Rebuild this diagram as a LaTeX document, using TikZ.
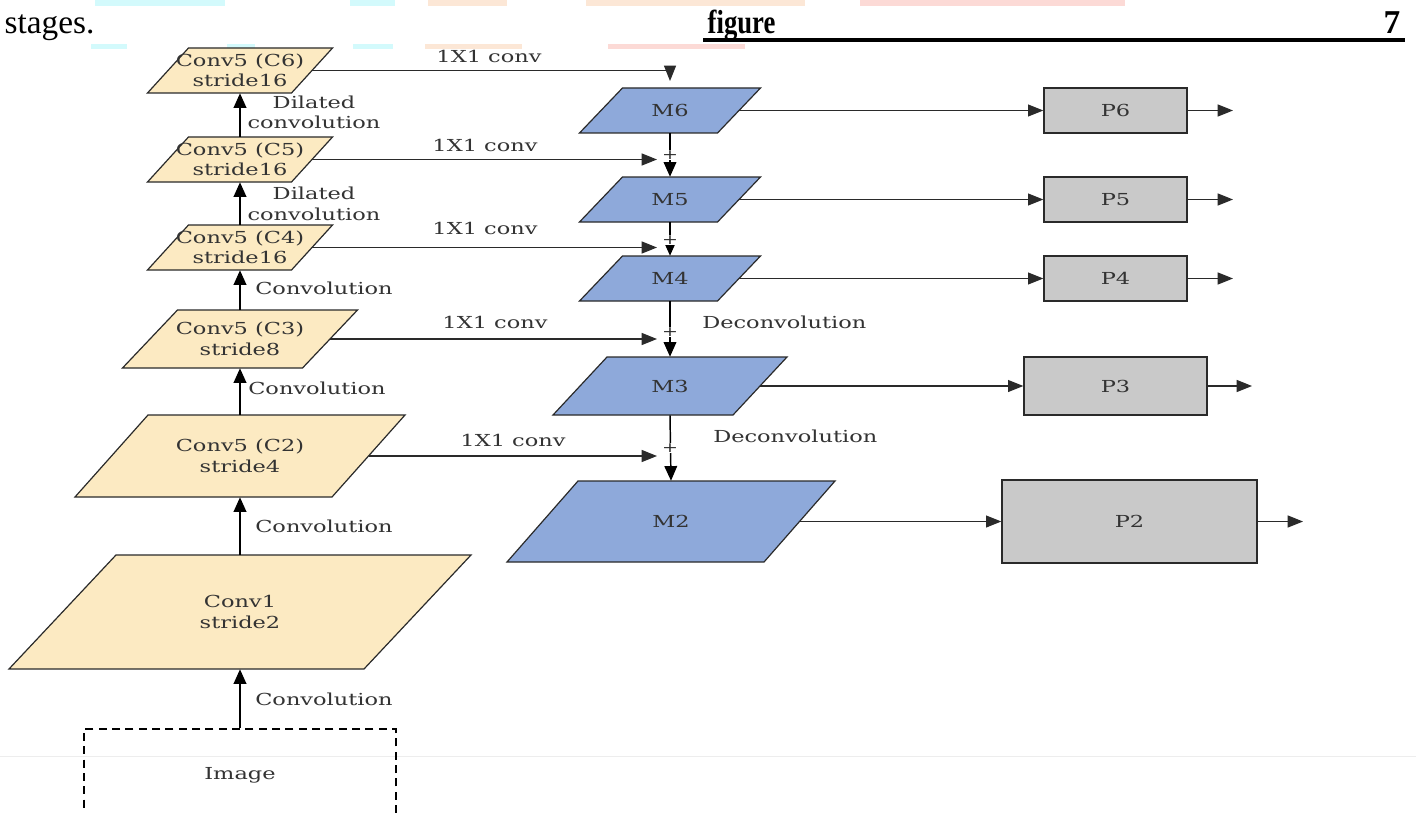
\documentclass[tikz,border=0pt]{standalone}
\usepackage{fontspec}
\setmainfont{DejaVu Serif}
\newfontfamily\lbl[FakeStretch=1.36]{DejaVu Serif}
\newfontfamily\hdr{Liberation Serif}
\newfontfamily\hdrb[FakeStretch=0.8]{Liberation Serif}
\usetikzlibrary{arrows.meta,calc}
\definecolor{cyellow}{HTML}{FCEAC2}
\definecolor{cblue}{HTML}{8EA9DA}
\definecolor{cgrey}{HTML}{C9C9C9}
\definecolor{cline}{HTML}{2A2A2A}
\definecolor{ctext}{HTML}{333333}
\definecolor{bcyan}{HTML}{D3FAFC}
\definecolor{bpeach}{HTML}{FCE7D6}
\definecolor{bpink}{HTML}{FCDAD6}
\tikzset{
  lbltext/.style={font=\lbl\fontsize{12.4}{15.5}\selectfont, text=ctext, align=center, inner sep=0pt},
  parashape/.style={draw=cline, line width=0.9pt, line join=miter},
  conn/.style={draw=cline, line width=0.8pt, -{Triangle[length=11.5pt,width=9pt]}},
  vconn/.style={draw=black, line width=1.1pt, -{Triangle[length=11pt,width=9.5pt]}},
  upconn/.style={draw=black, line width=1.4pt, -{Triangle[length=11pt,width=9.5pt]}},
  pbox/.style={lbltext, draw=cline, fill=cgrey, line width=1pt},
  plussign/.style={font=\lbl\fontsize{10.5}{10.5}\selectfont, text=cline, inner sep=0pt}
}
\newcommand\parabox[8]{%
  \draw[parashape,fill=#7] ({#2-#4/2+#6/2},{#3-#5/2}) -- ({#2+#4/2+#6/2},{#3-#5/2}) -- ({#2+#4/2-#6/2},{#3+#5/2}) -- ({#2-#4/2-#6/2},{#3+#5/2}) -- cycle;
  \node[lbltext, minimum width={#4*0.75pt}, minimum height={#5*0.75pt}] (#1) at (#2,#3) {#8};%
}
\begin{document}
\begin{tikzpicture}[x=0.75pt,y=-0.75pt]
\useasboundingbox (0,0) rectangle (1416,813);
\clip (0,0) rectangle (1416,813);
\fill[white] (0,0) rectangle (1416,813);

% faint highlight bars of the page
\fill[bcyan] (95,0) rectangle (225,6);
\fill[bcyan] (350,0) rectangle (395,6);
\fill[bpeach] (428,0) rectangle (507,6);
\fill[bpeach] (586,0) rectangle (805,6);
\fill[bpink] (860,0) rectangle (1125,6);
\fill[bcyan] (91,44) rectangle (127,49);
\fill[bcyan] (227,44) rectangle (255,49);
\fill[bcyan] (353,44) rectangle (393,49);
\fill[bpeach] (425,44) rectangle (522,49);
\fill[bpink] (608,44) rectangle (745,49);
\draw[black!7, line width=0.6pt] (0,756) -- (1416,756);

% header text
\node[anchor=base west, font=\hdr\fontsize{25}{28}\selectfont] (hs) at (0,34) {stages.};
\node[anchor=base west, font=\hdrb\fontsize{25}{28}\selectfont\bfseries] (hf) at (703,34) {figure};
\node[anchor=base east, font=\hdr\fontsize{25}{28}\selectfont\bfseries] (h7) at (1405,34) {7};
\draw[line width=2.6pt] (703,40) -- (1405,40);

% left column
\parabox{c6}{240}{70.5}{144}{45}{41}{cyellow}{Conv5 (C6)\\stride16}
\parabox{c5}{240}{159.5}{144}{45}{41}{cyellow}{Conv5 (C5)\\stride16}
\parabox{c4}{240}{247.5}{144}{45}{41}{cyellow}{Conv5 (C4)\\stride16}
\parabox{c3}{240}{339}{180}{58}{55}{cyellow}{Conv5 (C3)\\stride8}
\parabox{c2}{240}{456}{257}{82}{73}{cyellow}{Conv5 (C2)\\stride4}
\parabox{c1}{240}{612}{355}{114}{107}{cyellow}{Conv1\\stride2}
\node[lbltext, draw=black, line width=0.9pt, dash pattern=on 6pt off 4pt,
      minimum width={312*0.75pt}, minimum height={92*0.75pt}] (img) at (240,775) {Image};

% middle column
\parabox{m6}{670}{110.5}{138}{45}{43}{cblue}{M6}
\parabox{m5}{670}{199.5}{138}{45}{43}{cblue}{M5}
\parabox{m4}{670}{278.5}{138}{45}{43}{cblue}{M4}
\parabox{m3}{670}{386}{180}{58}{54}{cblue}{M3}
\parabox{m2}{671}{521.5}{257}{81}{71}{cblue}{M2}

% right column
\node[pbox, minimum width={143*0.75pt}, minimum height={45*0.75pt}] (p6) at (1115.5,110.5) {P6};
\node[pbox, minimum width={143*0.75pt}, minimum height={45*0.75pt}] (p5) at (1115.5,199.5) {P5};
\node[pbox, minimum width={143*0.75pt}, minimum height={45*0.75pt}] (p4) at (1115.5,278.5) {P4};
\node[pbox, minimum width={183*0.75pt}, minimum height={58*0.75pt}] (p3) at (1115.5,386) {P3};
\node[pbox, minimum width={255*0.75pt}, minimum height={83*0.75pt}] (p2) at (1129.5,521.5) {P2};

% coordinates
\coordinate (m6in) at (670,81);
\coordinate (jx) at (657,0);
\coordinate (o6) at (1233,110.5);
\coordinate (o5) at (1233,199.5);
\coordinate (o4) at (1233,278.5);
\coordinate (o3) at (1252,386);
\coordinate (o2) at (1303,521.5);

% upward arrows on the left
\draw[upconn] (img.north) -- (c1.south);
\draw[upconn] (c1.north) -- (c2.south);
\draw[upconn] (c2.north) -- (c3.south);
\draw[upconn] (c3.north) -- (c4.south);
\draw[upconn] (c4.north) -- (c5.south);
\draw[upconn] (c5.north) -- (c6.south);

% lateral 1x1 conv arrows
\draw[conn] (c6.east) -| (m6in);
\draw[conn] (c5.east) -- (c5.east -| jx);
\draw[conn] (c4.east) -- (c4.east -| jx);
\draw[conn] (c3.east) -- (c3.east -| jx);
\draw[conn] (c2.east) -- (c2.east -| jx);

% top-down arrows
\draw[vconn] (m6.south) -- (m5.north);
\draw[vconn] (m5.south) -- (m4.north);
\draw[vconn] (m4.south) -- (m3.north);
\draw[vconn] (m3.south) -- (m2.north);

% plus signs
\node[plussign, fill=white, inner sep=0.5pt] (s5) at (670,155) {+};
\node[plussign, fill=white, inner sep=0.5pt] (s4) at (670,240) {+};
\node[plussign, fill=white, inner sep=0.5pt] (s3) at (670,332) {+};
\node[plussign, fill=white, inner sep=0.5pt] (s2) at (670,448) {+};

% outputs
\draw[conn] (m6.east) -- (p6.west);
\draw[conn] (m5.east) -- (p5.west);
\draw[conn] (m4.east) -- (p4.west);
\draw[conn] (m3.east) -- (p3.west);
\draw[conn] (m2.east) -- (p2.west);
\draw[conn] (p6.east) -- (o6);
\draw[conn] (p5.east) -- (o5);
\draw[conn] (p4.east) -- (o4);
\draw[conn] (p3.east) -- (o3);
\draw[conn] (p2.east) -- (o2);

% labels
\node[lbltext] (l1) at (489,56) {1X1 conv};
\node[lbltext] (l2) at (485,145) {1X1 conv};
\node[lbltext] (l3) at (485,228) {1X1 conv};
\node[lbltext] (l4) at (495,322) {1X1 conv};
\node[lbltext] (l5) at (513,440) {1X1 conv};
\node[lbltext] (d1) at (314,112.5) {Dilated\\convolution};
\node[lbltext] (d2) at (314,204) {Dilated\\convolution};
\node[lbltext, anchor=west] (v1) at (255,288) {Convolution};
\node[lbltext, anchor=west] (v2) at (248,388) {Convolution};
\node[lbltext, anchor=west] (v3) at (255,526) {Convolution};
\node[lbltext, anchor=west] (v4) at (255,699) {Convolution};
\node[lbltext, anchor=west] (e1) at (702,322) {Deconvolution};
\node[lbltext, anchor=west] (e2) at (713,436) {Deconvolution};
\end{tikzpicture}
\end{document}
